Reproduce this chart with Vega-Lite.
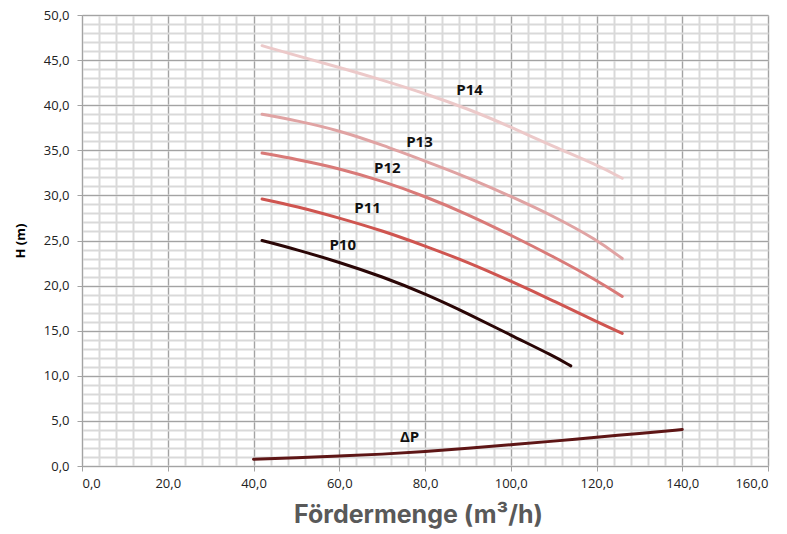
{
  "$schema": "https://vega.github.io/schema/vega-lite/v6.json",
  "width": 686,
  "height": 451,
  "autosize": {"type": "none"},
  "padding": {"left": 82, "top": 15, "right": 19, "bottom": 68},
  "background": "white",
  "config": {"view": {"stroke": null}},
  "datasets": {
    "curves": [
      {"s": "P14", "x": 42, "y": 46.6}, {"s": "P14", "x": 50, "y": 45.5}, {"s": "P14", "x": 60, "y": 44.2}, {"s": "P14", "x": 70, "y": 42.8}, {"s": "P14", "x": 80, "y": 41.3}, {"s": "P14", "x": 90, "y": 39.6}, {"s": "P14", "x": 100, "y": 37.6}, {"s": "P14", "x": 110, "y": 35.4}, {"s": "P14", "x": 120, "y": 33.4}, {"s": "P14", "x": 126, "y": 31.9},
      {"s": "P13", "x": 42, "y": 39.0}, {"s": "P13", "x": 50, "y": 38.3}, {"s": "P13", "x": 60, "y": 37.2}, {"s": "P13", "x": 70, "y": 35.6}, {"s": "P13", "x": 80, "y": 33.8}, {"s": "P13", "x": 90, "y": 32.0}, {"s": "P13", "x": 100, "y": 29.9}, {"s": "P13", "x": 110, "y": 27.7}, {"s": "P13", "x": 120, "y": 25.1}, {"s": "P13", "x": 126, "y": 23.0},
      {"s": "P12", "x": 42, "y": 34.7}, {"s": "P12", "x": 50, "y": 34.0}, {"s": "P12", "x": 60, "y": 33.0}, {"s": "P12", "x": 70, "y": 31.6}, {"s": "P12", "x": 80, "y": 29.9}, {"s": "P12", "x": 90, "y": 27.9}, {"s": "P12", "x": 100, "y": 25.6}, {"s": "P12", "x": 110, "y": 23.2}, {"s": "P12", "x": 120, "y": 20.6}, {"s": "P12", "x": 126, "y": 18.8},
      {"s": "P11", "x": 42, "y": 29.6}, {"s": "P11", "x": 50, "y": 28.8}, {"s": "P11", "x": 60, "y": 27.5}, {"s": "P11", "x": 70, "y": 26.1}, {"s": "P11", "x": 80, "y": 24.4}, {"s": "P11", "x": 90, "y": 22.6}, {"s": "P11", "x": 100, "y": 20.5}, {"s": "P11", "x": 110, "y": 18.3}, {"s": "P11", "x": 120, "y": 16.0}, {"s": "P11", "x": 126, "y": 14.7},
      {"s": "P10", "x": 42, "y": 25.0}, {"s": "P10", "x": 50, "y": 24.0}, {"s": "P10", "x": 60, "y": 22.6}, {"s": "P10", "x": 70, "y": 21.0}, {"s": "P10", "x": 80, "y": 19.1}, {"s": "P10", "x": 90, "y": 16.9}, {"s": "P10", "x": 100, "y": 14.5}, {"s": "P10", "x": 110, "y": 12.2}, {"s": "P10", "x": 114, "y": 11.1},
      {"s": "ΔP", "x": 40, "y": 0.75}, {"s": "ΔP", "x": 50, "y": 0.9}, {"s": "ΔP", "x": 60, "y": 1.1}, {"s": "ΔP", "x": 70, "y": 1.3}, {"s": "ΔP", "x": 80, "y": 1.6}, {"s": "ΔP", "x": 90, "y": 1.95}, {"s": "ΔP", "x": 100, "y": 2.35}, {"s": "ΔP", "x": 110, "y": 2.75}, {"s": "ΔP", "x": 120, "y": 3.2}, {"s": "ΔP", "x": 130, "y": 3.6}, {"s": "ΔP", "x": 140, "y": 4.05}
    ],
    "labels": [
      {"t": "P14", "x": 90.4, "y": 41.7},
      {"t": "P13", "x": 78.7, "y": 35.9},
      {"t": "P12", "x": 71.2, "y": 33.0},
      {"t": "P11", "x": 66.6, "y": 28.6},
      {"t": "P10", "x": 60.8, "y": 24.5},
      {"t": "ΔP", "x": 76.4, "y": 3.2}
    ]
  },
  "layer": [
    {
      "data": {"name": "curves"},
      "mark": {"type": "point", "opacity": 0},
      "encoding": {
        "x": {"field": "x", "type": "quantitative", "scale": {"domain": [0, 160], "nice": false, "zero": false},
          "axis": {"orient": "top", "values": [0,4,8,12,16,20,24,28,32,36,40,44,48,52,56,60,64,68,72,76,80,84,88,92,96,100,104,108,112,116,120,124,128,132,136,140,144,148,152,156,160],
            "grid": true, "gridColor": "#d9d9d9", "gridWidth": 2, "labels": false, "ticks": false, "domain": false, "title": null}},
        "y": {"field": "y", "type": "quantitative", "scale": {"domain": [0, 50], "nice": false},
          "axis": {"orient": "right", "values": [0,1,2,3,4,5,6,7,8,9,10,11,12,13,14,15,16,17,18,19,20,21,22,23,24,25,26,27,28,29,30,31,32,33,34,35,36,37,38,39,40,41,42,43,44,45,46,47,48,49,50],
            "grid": true, "gridColor": "#d9d9d9", "gridWidth": 2, "labels": false, "ticks": false, "domain": false, "title": null}}
      }
    },
    {
      "data": {"name": "curves"},
      "mark": {"type": "line", "interpolate": "basis", "strokeWidth": 3, "strokeCap": "round"},
      "encoding": {
        "x": {"field": "x", "type": "quantitative",
          "axis": {"orient": "bottom", "values": [0,20,40,60,80,100,120,140,160], "format": ".1f", "labelExpr": "replace(datum.label, '.', ',')",
            "grid": true, "gridColor": "#a3a3a3", "gridWidth": 1, "domainColor": "#a3a3a3", "tickColor": "#a3a3a3", "tickSize": 5,
            "labelFont": "Open Sans", "labelFontSize": 13, "labelColor": "#222222", "labelPadding": 6,
            "title": "Fördermenge (m³/h)", "titleFont": "Inter", "titleFontSize": 25, "titleFontWeight": "bold", "titleColor": "#595959", "titlePadding": 12, "titleX": 336, "titleAlign": "center", "titleAnchor": "start"}},
        "y": {"field": "y", "type": "quantitative",
          "axis": {"orient": "left", "values": [0,5,10,15,20,25,30,35,40,45,50], "format": ".1f", "labelExpr": "replace(datum.label, '.', ',')",
            "grid": true, "gridColor": "#a3a3a3", "gridWidth": 1, "domainColor": "#a3a3a3", "tickColor": "#a3a3a3", "tickSize": 5,
            "labelFont": "Open Sans", "labelFontSize": 13, "labelColor": "#222222", "labelPadding": 8,
            "title": "H (m)", "titleFont": "Open Sans", "titleFontSize": 13, "titleFontWeight": "bold", "titleColor": "#000000", "titlePadding": 16}},
        "color": {"field": "s", "type": "nominal", "legend": null,
          "scale": {"domain": ["P10", "P11", "P12", "P13", "P14", "ΔP"], "range": ["#2a0606", "#cf5550", "#d97a78", "#e0a3a3", "#ecc9c9", "#5e1616"]}},
        "detail": {"field": "s"}
      }
    },
    {
      "data": {"name": "labels"},
      "mark": {"type": "text", "font": "Open Sans", "fontSize": 15, "fontWeight": "bold", "color": "#111111"},
      "encoding": {
        "x": {"field": "x", "type": "quantitative", "axis": null},
        "y": {"field": "y", "type": "quantitative", "axis": null},
        "text": {"field": "t"}
      }
    }
  ],
  "resolve": {"axis": {"x": "independent", "y": "independent"}}
}
